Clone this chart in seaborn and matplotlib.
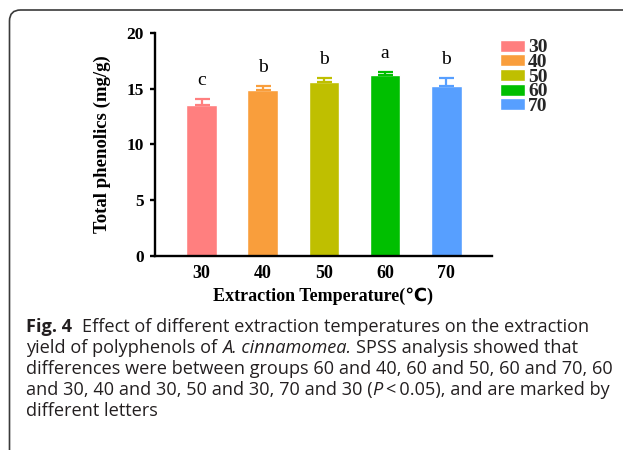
import matplotlib
matplotlib.use("Agg")
import matplotlib.pyplot as plt
from matplotlib.patches import FancyBboxPatch
import seaborn as sns
import pandas as pd

# ---- data ----
temps = ["30", "40", "50", "60", "70"]
phenolics = [13.55, 14.90, 15.59, 16.25, 15.28]
sd = [0.54, 0.33, 0.36, 0.24, 0.67]
letters = ["c", "b", "b", "a", "b"]
colors = ["#FF7F7F", "#F99E3C", "#BFBF00", "#00BF00", "#579FFF"]
yticks = [0, 5, 10, 15, 20]
ylabel = "Total phenolics (mg/g)"
xlabel = "Extraction Temperature(\u2103)"

W, H = 623, 450
sns.set_theme(style="white")
plt.rcParams["font.family"] = ["Liberation Serif", "DejaVu Sans"]

fig = plt.figure(figsize=(W / 100, H / 100), dpi=100)
ax = fig.add_axes([154.5 / W, 1 - 255.5 / H, (492.3 - 154.5) / W, (255.5 - 33.3) / H])

df = pd.DataFrame({"temp": temps, "value": phenolics})
sns.barplot(data=df, x="temp", y="value", hue="temp", palette=colors,
            saturation=1, width=0.5, errorbar=None, legend=True, ax=ax,
            order=temps, hue_order=temps)

# error bars (upper only) and letters
for p, v, e, c, lt in zip(ax.patches[:len(temps)], phenolics, sd, colors, letters):
    xc = p.get_x() + p.get_width() / 2
    ax.errorbar(xc, v, yerr=[[0], [e]], fmt="none", ecolor=c, elinewidth=1.6,
                capsize=5.4, capthick=1.6, zorder=1)
    ax.text(xc, v + e + 1.7, lt, ha="center", va="center", fontsize=14,
            family=["Liberation Serif"], color="black")

ax.set_xlim(-0.768, 4.75)
ax.set_ylim(0, 20)
ax.set_yticks(yticks)
for s in ["top", "right"]:
    ax.spines[s].set_visible(False)
for s in ["left", "bottom"]:
    ax.spines[s].set_linewidth(1.7)
    ax.spines[s].set_color("black")
ax.tick_params(axis="y", length=3.6, width=1.7, pad=4, labelsize=12.5, color="black", left=True)
ax.tick_params(axis="x", length=0, pad=7, labelsize=13)
for lab in ax.get_xticklabels() + ax.get_yticklabels():
    lab.set_fontweight("bold")
    lab.set_color("black")

ax.set_xlabel(xlabel, fontsize=13, fontweight="bold", va="center", color="black")
ax.xaxis.set_label_coords(0.5, (255.5 - 296) / 222.2)
ax.set_ylabel(ylabel, fontsize=13.5, fontweight="bold", va="center", color="black")
ax.yaxis.set_label_coords((102.5 - 154.5) / 337.8, 0.5)

handles, labels = ax.get_legend_handles_labels()
ax.get_legend().remove()
fig.legend(handles, labels, loc="upper left", bbox_to_anchor=(500 / W, 1 - 39.5 / H),
           bbox_transform=fig.transFigure, frameon=False, borderpad=0, borderaxespad=0,
           handlelength=1.29, handleheight=0.59, handletextpad=0.15, labelspacing=-0.12,
           prop={"family": "Liberation Serif", "weight": "bold", "size": 14})

# ---- rounded border (top and left edges) ----
border = FancyBboxPatch((0.095, -0.2), 8.0, 4.40 + 0.2, boxstyle="round,pad=0,rounding_size=0.11",
                        transform=fig.dpi_scale_trans, fill=False, lw=1.2, ec="#3a3a3a",
                        clip_on=False)
fig.patches.append(border)

# ---- caption ----
cap_font = "Open Sans"
cap_color = "#231f20"
renderer = fig.canvas.get_renderer()


def width_px(txt, size, weight="normal", style="normal"):
    t = fig.text(0, 0, txt, fontsize=size, fontweight=weight, fontstyle=style, family=cap_font)
    w = t.get_window_extent(renderer).width
    t.remove()
    return w


line3 = "differences were between groups 60 and 40, 60 and 50, 60 and 70, 60"
base = 12.0
size = base * 587.0 / width_px(line3, base)

lines = [
    [("Fig. 4", "bold", "normal", 0), ("Effect of different extraction temperatures on the extraction", "normal", "normal", 2)],
    [("yield of polyphenols of", "normal", "normal", 0), ("A. cinnamomea.", "normal", "italic", 1),
     ("SPSS analysis showed that", "normal", "normal", 1)],
    [(line3, "normal", "normal", 0)],
    [("and 30, 40 and 30, 50 and 30, 70 and 30 (", "normal", "normal", 0), ("P", "normal", "italic", 0),
     ("\u2009<\u20090.05), and are marked by", "normal", "normal", 0)],
    [("different letters", "normal", "normal", 0)],
]
baselines = [332.3, 353.3, 374.3, 395.3, 416.3]
space_w = width_px("x x", size) - width_px("xx", size)
for segs, yb in zip(lines, baselines):
    x = 26.0
    for txt, wt, st, nsp in segs:
        x += nsp * space_w
        t = fig.text(x / W, 1 - yb / H, txt, fontsize=size, fontweight=wt, fontstyle=st,
                     family=[cap_font, "DejaVu Sans"], color=cap_color, ha="left", va="baseline")
        x += t.get_window_extent(renderer).width

fig.savefig("out.png", dpi=100)
